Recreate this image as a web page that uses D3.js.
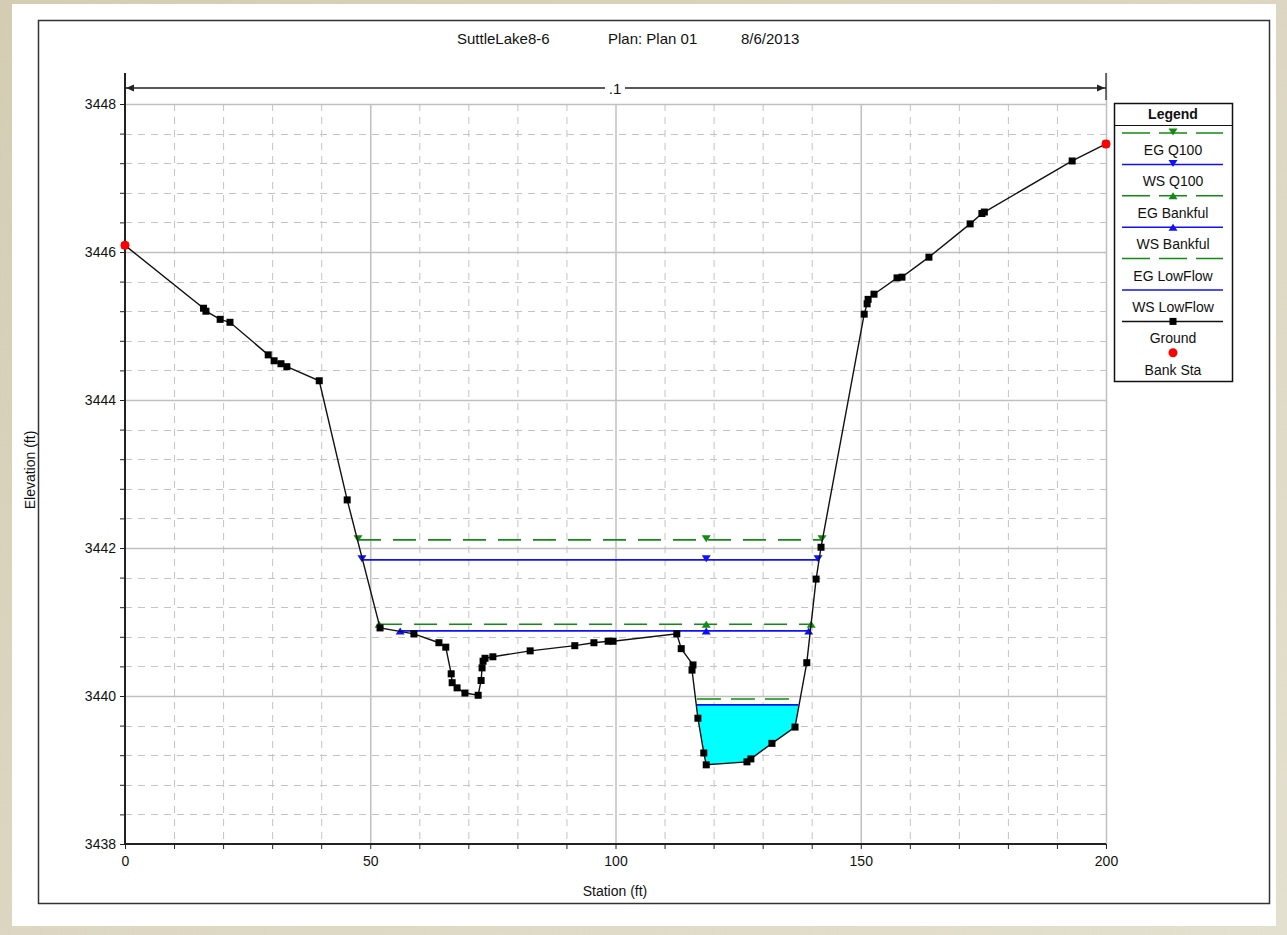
<!DOCTYPE html>
<html><head><meta charset="utf-8">
<script src="https://cdn.jsdelivr.net/npm/d3@7"></script>
<style>
html,body{margin:0;padding:0;background:#d9d4bf;}
svg{display:block;}
text{font-family:"Liberation Sans",Arial,sans-serif;fill:#111;}
</style></head>
<body>
<script>
// ---------- DATA ----------
const titleParts = ["SuttleLake8-6", "Plan: Plan 01", "8/6/2013"];
const xTicks = [0, 50, 100, 150, 200];
const yTicks = [3438, 3440, 3442, 3444, 3446, 3448];
const groundSta = [0, 16.0, 16.5, 19.4, 21.4, 29.2, 30.4, 31.8, 33.0, 39.6, 45.3, 52.0, 58.9, 64.0, 65.4, 66.5, 66.7, 67.7, 69.3, 72.0, 72.6, 72.8, 73.0, 73.4, 75.0, 82.6, 91.7, 95.6, 98.5, 99.5, 112.5, 113.4, 115.8, 115.6, 116.8, 118.0, 118.5, 126.8, 127.6, 131.9, 136.6, 139.0, 140.9, 141.9, 150.7, 151.3, 151.5, 152.7, 157.4, 158.4, 163.9, 172.3, 174.7, 175.2, 193.1, 200];
const groundElev = [3446.09, 3445.24, 3445.20, 3445.09, 3445.05, 3444.61, 3444.53, 3444.49, 3444.45, 3444.26, 3442.65, 3440.92, 3440.84, 3440.72, 3440.66, 3440.30, 3440.18, 3440.11, 3440.04, 3440.01, 3440.21, 3440.38, 3440.47, 3440.51, 3440.53, 3440.61, 3440.68, 3440.72, 3440.74, 3440.74, 3440.84, 3440.64, 3440.42, 3440.35, 3439.70, 3439.23, 3439.07, 3439.11, 3439.15, 3439.36, 3439.58, 3440.45, 3441.58, 3442.01, 3445.16, 3445.30, 3445.36, 3445.43, 3445.65, 3445.66, 3445.93, 3446.38, 3446.52, 3446.54, 3447.23, 3447.46];
const bankSta = [0, 200];
const bankElev = [3446.09, 3447.46];
// water-surface profiles: name, elevation, left station, right station
const wsNames = ["EG Q100", "WS Q100", "EG Bankful", "WS Bankful", "EG LowFlow", "WS LowFlow"];
const wsElev  = [3442.11, 3441.84, 3440.97, 3440.88, 3439.96, 3439.88];
const wsLeft  = [47.5, 48.3, 51.8, 56.1, 116.6, 116.5];
const wsRight = [142.1, 141.3, 139.9, 139.4, 137.2, 137.3];
const wsMid   = [118.5, 118.5, 118.5, 118.5, null, null];
const reachLabel = ".1";

// ---------- STYLES ----------
const wsStyle = [
  {color:"#138a13", dash:"23,12", marker:"down"},
  {color:"#1010ff", dash:null, marker:"down"},
  {color:"#138a13", dash:"23,12", marker:"up"},
  {color:"#1010ff", dash:null, marker:"up"},
  {color:"#138a13", dash:"24,10", marker:null},
  {color:"#1010ff", dash:null, marker:null}
];

const W = 1287, H = 935;
const svg = d3.select("body").append("svg").attr("width", W).attr("height", H);

// background
const grad = svg.append("defs").append("linearGradient").attr("id","bg").attr("x1","0").attr("x2","1").attr("y1","0").attr("y2","1");
grad.append("stop").attr("offset","0").attr("stop-color","#d4cdb4");
grad.append("stop").attr("offset","1").attr("stop-color","#e4e0cf");
svg.append("rect").attr("width",W).attr("height",H).attr("fill","url(#bg)");
svg.append("rect").attr("x",12).attr("y",4).attr("width",1264).attr("height",922).attr("fill","#fff");
svg.append("rect").attr("x",38.5).attr("y",20.5).attr("width",1231).attr("height",883).attr("fill","none").attr("stroke","#333").attr("stroke-width",1.5);

const x = d3.scaleLinear().domain([0,200]).range([125,1106]);
const y = d3.scaleLinear().domain([3438,3448]).range([844,104]);

// gridlines
const g = svg.append("g");
const vMinor = d3.range(10, 200, 10).filter(v => v % 50 !== 0);
g.selectAll(".vmin").data(vMinor).join("line")
  .attr("x1", d=>x(d)+0.5).attr("x2", d=>x(d)+0.5).attr("y1", y(3448)).attr("y2", y(3438))
  .attr("stroke","#c4c4c4").attr("stroke-dasharray","7,6");
const hMinor = d3.range(0, 25).map(i => 3438 + i*0.4).filter(v => Math.abs(v - Math.round(v/2)*2) > 0.01);
g.selectAll(".hmin").data(hMinor).join("line")
  .attr("x1", x(0)).attr("x2", x(200)).attr("y1", d=>Math.round(y(d))+0.5).attr("y2", d=>Math.round(y(d))+0.5)
  .attr("stroke","#c4c4c4").attr("stroke-dasharray","7,6");
g.selectAll(".vmaj").data(xTicks.slice(1)).join("line")
  .attr("x1", d=>x(d)+0.5).attr("x2", d=>x(d)+0.5).attr("y1", d=> d===200 ? 73 : y(3448)).attr("y2", y(3438))
  .attr("stroke","#c0c0c0").attr("stroke-width",1.5);
g.selectAll(".hmaj").data(yTicks.slice(1)).join("line")
  .attr("x1", x(0)).attr("x2", x(200)).attr("y1", d=>Math.round(y(d))+0.5).attr("y2", d=>Math.round(y(d))+0.5)
  .attr("stroke","#c0c0c0").attr("stroke-width",1.5);

// axes
const xAxis = d3.axisBottom(x).tickValues(d3.range(0, 201, 10)).tickSize(5).tickFormat(d => xTicks.includes(d) ? d : "");
const xa = svg.append("g").attr("transform",`translate(0,${y(3438)})`).call(xAxis);
xa.select(".domain").attr("stroke","#222").attr("stroke-width",2).attr("d",`M${x(0)},0H${x(200)}`);
xa.selectAll(".tick line").attr("stroke","#222");
xa.selectAll(".tick text").attr("font-size",14).attr("font-family","Liberation Sans, Arial").attr("fill","#111").attr("dy","1.0em");

const yAxis = d3.axisLeft(y).tickValues(d3.range(0, 26).map(i => 3438 + i*0.4).filter(v=>v<=3448.01)).tickSize(5)
  .tickFormat(d => { const r = Math.round(d); return (Math.abs(d-r)<0.01 && r%2===0) ? r : ""; });
const ya = svg.append("g").attr("transform",`translate(${x(0)},0)`).call(yAxis);
ya.select(".domain").attr("stroke","#222").attr("stroke-width",2).attr("d",`M0,73V${y(3438)}`);
ya.selectAll(".tick line").attr("stroke","#222");
ya.selectAll(".tick text").attr("font-size",14).attr("font-family","Liberation Sans, Arial").attr("fill","#111").attr("dx","-1");

// axis labels
svg.append("text").attr("x",615).attr("y",896).attr("text-anchor","middle").attr("font-size",14).text("Station (ft)");
svg.append("text").attr("transform","translate(35,470) rotate(-90)").attr("text-anchor","middle").attr("font-size",14).text("Elevation (ft)");

// title
const titleX = [457, 608, 741];
svg.selectAll(".title").data(titleParts).join("text")
  .attr("x",(d,i)=>titleX[i]).attr("y",44).attr("font-size",15).text(d=>d);

// reach arrow
const ry = 88;
svg.append("line").attr("x1",x(0)).attr("x2",x(200)).attr("y1",ry).attr("y2",ry).attr("stroke","#222").attr("stroke-width",1.5);
[[x(0),1],[x(200),-1]].forEach(([px,dir])=>{
  svg.append("line").attr("x1",px).attr("x2",px).attr("y1",73).attr("y2",100).attr("stroke","#222").attr("stroke-width",1.2);
  svg.append("path").attr("d",`M${px+1*dir},${ry}L${px+9*dir},${ry-3.5}L${px+9*dir},${ry+3.5}Z`).attr("fill","#222");
});
svg.append("rect").attr("x",605).attr("y",ry-6).attr("width",20).attr("height",12).attr("fill","#fff");
svg.append("text").attr("x",615).attr("y",ry+6).attr("text-anchor","middle").attr("font-size",15).text(reachLabel);

// ground data
const ground = groundSta.map((s,i)=>({s, e: groundElev[i]}));

// low-flow water fill
const lfI = 5;
const wsl = wsElev[lfI];
const inner = ground.filter(p => p.s > wsLeft[lfI] && p.s < wsRight[lfI] && p.e < wsl);
const fillPts = [{s: wsLeft[lfI], e: wsl}, ...inner, {s: wsRight[lfI], e: wsl}];
svg.append("path").datum(fillPts)
  .attr("d", d3.area().x(d=>x(d.s)).y0(d=>y(d.e)).y1(y(wsl)))
  .attr("fill","#00ffff");

// water surface lines
const tri = (dir) => dir==="down" ? "M-4.5,-4.5L4.5,-4.5L0,2.5Z" : "M-4.5,3.5L4.5,3.5L0,-3.5Z";
wsNames.forEach((n,i)=>{
  const st = wsStyle[i];
  const ln = svg.append("line").attr("x1",x(wsLeft[i])).attr("x2",x(wsRight[i]))
    .attr("y1",y(wsElev[i])).attr("y2",y(wsElev[i])).attr("stroke",st.color).attr("stroke-width",1.6);
  if (st.dash) ln.attr("stroke-dasharray",st.dash);
  if (st.marker) {
    const pts = [wsLeft[i], wsMid[i], wsRight[i]].filter(v=>v!==null);
    svg.selectAll(null).data(pts).join("path")
      .attr("transform",d=>`translate(${x(d)},${y(wsElev[i])})`)
      .attr("d",tri(st.marker)).attr("fill",st.color);
  }
});

// ground line
svg.append("path").datum(ground)
  .attr("d", d3.line().x(d=>x(d.s)).y(d=>y(d.e)))
  .attr("fill","none").attr("stroke","#111").attr("stroke-width",1.4);
svg.selectAll(".gpt").data(ground).join("rect")
  .attr("x",d=>x(d.s)-3.5).attr("y",d=>y(d.e)-3.5).attr("width",7).attr("height",7).attr("fill","#000");

// bank stations
svg.selectAll(".bank").data(bankSta).join("circle")
  .attr("cx",d=>x(d)).attr("cy",(d,i)=>y(bankElev[i])).attr("r",4.5).attr("fill","#ff0000");

// legend
const lg = svg.append("g");
lg.append("rect").attr("x",1114.5).attr("y",103.5).attr("width",118).attr("height",278).attr("fill","#fff").attr("stroke","#111").attr("stroke-width",1.5);
lg.append("line").attr("x1",1115).attr("x2",1232).attr("y1",125.5).attr("y2",125.5).attr("stroke","#111");
lg.append("text").attr("x",1173).attr("y",119).attr("text-anchor","middle").attr("font-size",14).attr("font-weight","bold").text("Legend");
const legNames = [...wsNames, "Ground", "Bank Sta"];
legNames.forEach((n,i)=>{
  const ly = 133 + i*31.4;
  if (i < 6) {
    const st = wsStyle[i];
    const l = lg.append("line").attr("x1",1122).attr("x2",1223).attr("y1",ly).attr("y2",ly).attr("stroke",st.color).attr("stroke-width",1.5);
    if (st.dash) l.attr("stroke-dasharray","28,9");
    if (st.marker) lg.append("path").attr("transform",`translate(1173,${ly})`).attr("d",tri(st.marker)).attr("fill",st.color);
  } else if (i === 6) {
    lg.append("line").attr("x1",1122).attr("x2",1223).attr("y1",ly).attr("y2",ly).attr("stroke","#111").attr("stroke-width",1.5);
    lg.append("rect").attr("x",1169.5).attr("y",ly-3.5).attr("width",7).attr("height",7).attr("fill","#000");
  } else {
    lg.append("circle").attr("cx",1173).attr("cy",ly).attr("r",4.5).attr("fill","#ff0000");
  }
  lg.append("text").attr("x",1173).attr("y",ly+22).attr("text-anchor","middle").attr("font-size",14).text(n);
});
</script>
</body></html>
